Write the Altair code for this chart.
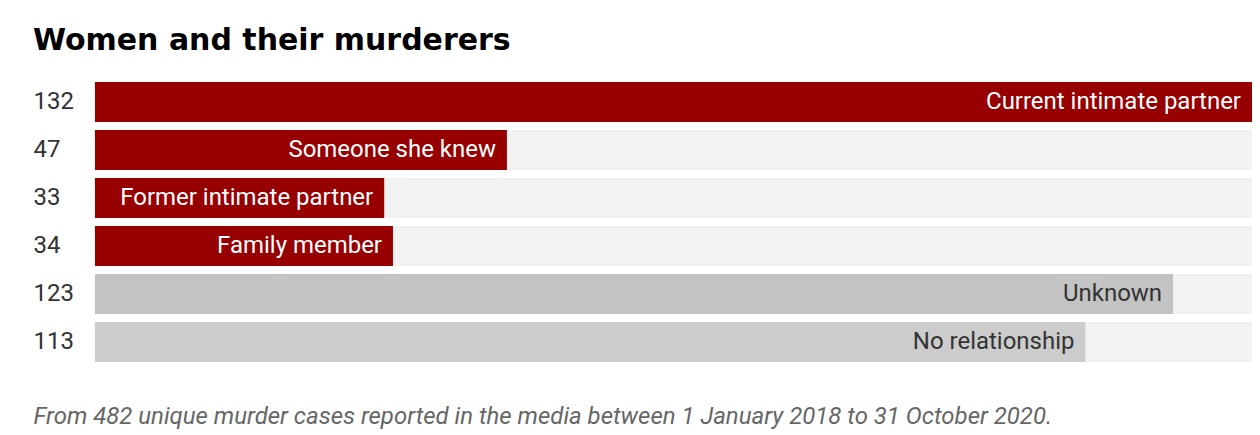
import altair as alt
import pandas as pd

categories = ["Current intimate partner", "Someone she knew", "Former intimate partner",
              "Family member", "Unknown", "No relationship"]
counts = [132, 47, 33, 34, 123, 113]
groups = ["known", "known", "known", "known", "unknown", "none"]

df = pd.DataFrame({
    "category": categories,
    "count": counts,
    "num": [str(c) for c in counts],
    "group": groups,
    "order": list(range(len(categories))),
})

base = alt.Chart(df).transform_joinaggregate(max_count="max(count)")

y_enc = alt.Y(
    "num:N",
    sort=alt.EncodingSortField(field="order", order="ascending"),
    scale=alt.Scale(paddingInner=1 / 6, paddingOuter=1 / 12),
    axis=alt.Axis(
        title=None, domain=False, ticks=False, tickSize=0, grid=False,
        labelAlign="left", labelPadding=62, labelFont="Roboto", labelFontSize=24,
        labelColor="#333333",
    ),
)

x_scale = alt.Scale(domain=[0, 132], nice=False, zero=True)
x_axis = alt.Axis(
    title="From 482 unique murder cases reported in the media between 1 January 2018 to 31 October 2020.",
    labels=False, ticks=False, domain=False, grid=False,
    titleFont="Roboto", titleFontStyle="italic", titleFontWeight="normal",
    titleFontSize=24, titleColor="#666666", titleAnchor="start", titleAlign="left",
    titleBaseline="alphabetic", titleX=-62, titleY=58,
)

track = base.mark_bar(color="#f2f2f2").encode(
    x=alt.X("max_count:Q", scale=x_scale, axis=x_axis),
    y=y_enc,
)

bars = base.mark_bar().encode(
    x=alt.X("count:Q", scale=x_scale),
    y=y_enc,
    color=alt.Color("group:N", legend=None,
                    scale=alt.Scale(domain=["known", "unknown", "none"],
                                    range=["#960000", "#c3c3c3", "#cccccc"])),
)

labels = base.mark_text(align="right", baseline="middle", dx=-11, font="Roboto", fontSize=24).encode(
    x=alt.X("count:Q", scale=x_scale),
    y=y_enc,
    text="category:N",
    color=alt.condition("datum.group == 'known'", alt.value("#ffffff"), alt.value("#333333")),
)

chart = (track + bars + labels).properties(
    width=1158,
    height=288,
    title=alt.TitleParams(
        "Women and their murderers", anchor="start", frame="group",
        font="DejaVu Sans", fontWeight="bold", fontSize=30, color="#000000",
        baseline="alphabetic", dx=-62, dy=33, offset=31,
    ),
    autosize=alt.AutoSizeParams(type="none"),
    padding={"left": 87, "top": 70, "right": 0, "bottom": 68},
).configure(background="white").configure_view(stroke=None, strokeWidth=0)

chart.save("out.html", embed_options={"renderer": "svg", "actions": False})
